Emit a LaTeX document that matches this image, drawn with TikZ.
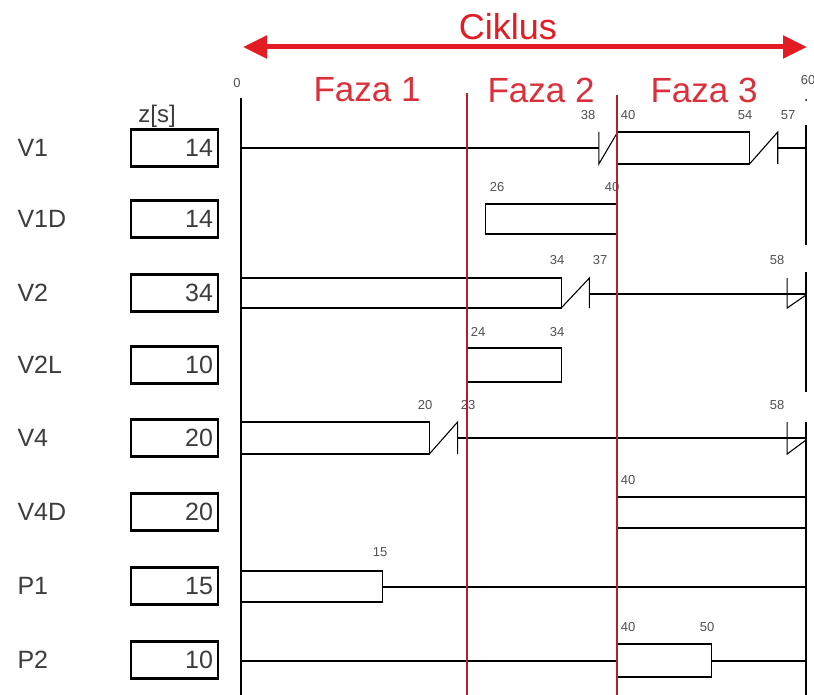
\documentclass[tikz,border=0pt]{standalone}
\usepackage{fontspec}
\setmainfont{Liberation Sans}
\usetikzlibrary{arrows.meta}
\definecolor{cyclered}{RGB}{226,28,34}
\definecolor{phasered}{RGB}{218,48,60}
\definecolor{borderred}{RGB}{185,30,40}
\definecolor{labelgray}{RGB}{60,60,60}
\begin{document}
\begin{tikzpicture}[x=1pt, y=-1pt,
    sig/.style={black, line width=1.1pt},
    phaseline/.style={borderred, line width=1.5pt},
    rowlab/.style={anchor=west, text=labelgray, font=\fontsize{25}{25}\selectfont},
    numbox/.style={draw, line width=2.2pt, minimum width=87pt, minimum height=37pt,
        text width=77pt, align=right, inner xsep=5pt, inner ysep=0pt,
        text=labelgray, font=\fontsize{25}{25}\selectfont},
    tlab/.style={text=labelgray!90, inner sep=0pt, font=\fontsize{13}{13}\selectfont},
    phaselab/.style={text=phasered, font=\fontsize{35}{35}\selectfont}]
    \useasboundingbox (0,0) rectangle (814,695);
    % the cycle arrow, with label
    \coordinate (cycA) at (243,47);
    \coordinate (cycB) at (807,47);
    \draw[cyclered, line width=5pt, {Triangle[length=24pt, width=22pt]}-{Triangle[length=24pt, width=22pt]}]
        (cycA) -- (cycB);
    \node[text=cyclered, font=\fontsize{36}{36}\selectfont] (cyc) at (508,27) {Ciklus};
    % phase labels
    \node[phaselab] (f1) at (367,90) {Faza 1};
    \node[phaselab] (f2) at (541,90) {Faza 2};
    \node[phaselab] (f3) at (704,90) {Faza 3};
    % column heading and row labels with green times
    \node[font=\fontsize{24}{24}\selectfont, text=labelgray] (zs) at (157,116) {z[s]};
    \node[rowlab] (lV1) at (14,148) {V1};
    \node[rowlab] (lV1D) at (14,219) {V1D};
    \node[rowlab] (lV2) at (14,293) {V2};
    \node[rowlab] (lV2L) at (14,365) {V2L};
    \node[rowlab] (lV4) at (14,438) {V4};
    \node[rowlab] (lV4D) at (14,512) {V4D};
    \node[rowlab] (lP1) at (14,586) {P1};
    \node[rowlab] (lP2) at (14,660) {P2};
    \node[numbox] (bV1) at (174.5,148) {14};
    \node[numbox] (bV1D) at (174.5,219) {14};
    \node[numbox] (bV2) at (174.5,293) {34};
    \node[numbox] (bV2L) at (174.5,365) {10};
    \node[numbox] (bV4) at (174.5,438) {20};
    \node[numbox] (bV4D) at (174.5,512) {20};
    \node[numbox] (bP1) at (174.5,586) {15};
    \node[numbox] (bP2) at (174.5,660) {10};
    % time marks above the signals
    \node[tlab] (t0) at (237,83) {0};
    \node[tlab] (t60) at (808,80) {60};
    \node[tlab] (t38) at (588,115) {38};
    \node[tlab] (t40a) at (628,115) {40};
    \node[tlab] (t54) at (745,115) {54};
    \node[tlab] (t57) at (788,115) {57};
    \node[tlab] (t26) at (497,187) {26};
    \node[tlab] (t40b) at (612,187) {40};
    \node[tlab] (t34a) at (557,260) {34};
    \node[tlab] (t37) at (600,260) {37};
    \node[tlab] (t58a) at (777,260) {58};
    \node[tlab] (t24) at (478,332) {24};
    \node[tlab] (t34b) at (557,332) {34};
    \node[tlab] (t20) at (425,405) {20};
    \node[tlab] (t23) at (468,405) {23};
    \node[tlab] (t58b) at (777,405) {58};
    \node[tlab] (t40c) at (628,480) {40};
    \node[tlab] (t15) at (380,552) {15};
    \node[tlab] (t40d) at (628,627) {40};
    \node[tlab] (t50) at (707,627) {50};
    % signals, in seconds along x
    \begin{scope}[shift={(241,0)}, x=9.417pt]
        % start and end of the cycle
        \draw[sig] (0,98) -- (0,695);
        \draw[sig] (60,125) -- (60,245);
        \draw[sig] (60,272) -- (60,392);
        \draw[sig] (60,422) -- (60,695);
        \fill (60,100) circle (1pt);
        % V1
        \draw[sig] (0,148) -- (38,148);
        \draw[sig] (38,132) -- (38,164) -- (40,132);
        \draw[sig] (40,132) rectangle (54,164);
        \draw[sig] (54,164) -- (57,132) -- (57,164);
        \draw[sig] (57,148) -- (60,148);
        % V1D
        \draw[sig] (26,204) rectangle (40,234);
        % V2
        \draw[sig] (0,278) rectangle (34,308);
        \draw[sig] (34,308) -- (37,278) -- (37,308);
        \draw[sig] (37,294) -- (60,294);
        \draw[sig] (58,278) -- (58,308) -- (60,295);
        % V2L
        \draw[sig] (24,348) rectangle (34,382);
        % V4
        \draw[sig] (0,422) rectangle (20,454);
        \draw[sig] (20,454) -- (23,422) -- (23,454);
        \draw[sig] (23,438) -- (60,438);
        \draw[sig] (58,422) -- (58,454) -- (60,440);
        % V4D
        \draw[sig] (40,497) rectangle (60,528);
        % P1
        \draw[sig] (0,571) rectangle (15,602);
        \draw[sig] (15,587) -- (60,587);
        % P2
        \draw[sig] (0,661) -- (40,661);
        \draw[sig] (40,644) rectangle (50,677);
        \draw[sig] (50,661) -- (60,661);
        % phase borders, over the signals
        \draw[phaseline] (24,93) -- (24,695);
        \draw[phaseline] (39.95,95) -- (39.95,695);
    \end{scope}
\end{tikzpicture}
\end{document}
